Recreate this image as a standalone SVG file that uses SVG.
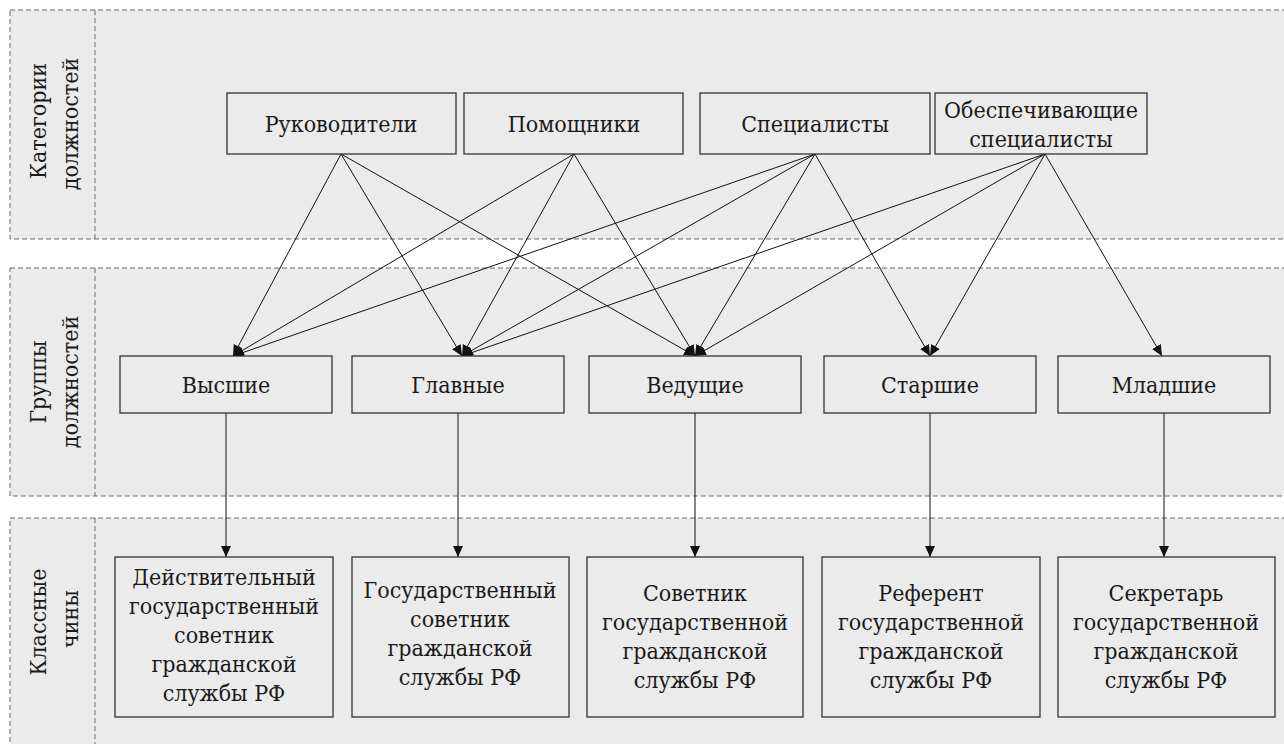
<svg xmlns="http://www.w3.org/2000/svg" width="1284" height="744" viewBox="0 0 1284 744">
<style>
.lane{fill:#ebebeb;stroke:#6a6a6a;stroke-width:1;stroke-dasharray:5,3}
.div{stroke:#6a6a6a;stroke-width:1;stroke-dasharray:5,3;fill:none}
.box{fill:#ebebeb;stroke:#333;stroke-width:1.3}
.c{stroke:#111;stroke-width:1;fill:none;marker-end:url(#ah)}
</style>
<defs>
<marker id="ah" markerUnits="userSpaceOnUse" markerWidth="12" markerHeight="12" refX="11" refY="5" orient="auto">
<path d="M0,0 L11,5 L0,10 Z" fill="#111"/>
</marker>
</defs>
<rect width="1284" height="744" fill="#fff"/>
<g font-family="DejaVu Serif Condensed, DejaVu Serif, serif" font-stretch="condensed" font-size="23" fill="#1a1a1a" text-anchor="middle">
<g id="lanes">
<rect class="lane" x="10" y="10" width="1290" height="229"/>
<line class="div" x1="95" y1="10" x2="95" y2="239"/>
<rect class="lane" x="10" y="268" width="1290" height="228"/>
<line class="div" x1="95" y1="268" x2="95" y2="496"/>
<rect class="lane" x="10" y="518" width="1290" height="250"/>
<line class="div" x1="95" y1="518" x2="95" y2="768"/>
<text transform="translate(46,121) rotate(-90)">Категории</text>
<text transform="translate(78,124) rotate(-90)">должностей</text>
<text transform="translate(46,382) rotate(-90)">Группы</text>
<text transform="translate(78,382) rotate(-90)">должностей</text>
<text transform="translate(46,622) rotate(-90)">Классные</text>
<text transform="translate(78,619) rotate(-90)">чины</text>
</g>
<g id="connectors">
<line class="c" x1="341" y1="154" x2="233" y2="356"/>
<line class="c" x1="341" y1="154" x2="462" y2="356"/>
<line class="c" x1="341" y1="154" x2="695" y2="356"/>
<line class="c" x1="574" y1="154" x2="233" y2="356"/>
<line class="c" x1="574" y1="154" x2="462" y2="356"/>
<line class="c" x1="574" y1="154" x2="695" y2="356"/>
<line class="c" x1="815" y1="154" x2="233" y2="356"/>
<line class="c" x1="815" y1="154" x2="462" y2="356"/>
<line class="c" x1="815" y1="154" x2="695" y2="356"/>
<line class="c" x1="815" y1="154" x2="930" y2="356"/>
<line class="c" x1="1045" y1="154" x2="462" y2="356"/>
<line class="c" x1="1045" y1="154" x2="695" y2="356"/>
<line class="c" x1="1045" y1="154" x2="930" y2="356"/>
<line class="c" x1="1045" y1="154" x2="1162" y2="356"/>
<line class="c" x1="226" y1="413" x2="226" y2="557"/>
<line class="c" x1="458" y1="413" x2="458" y2="557"/>
<line class="c" x1="695" y1="413" x2="695" y2="557"/>
<line class="c" x1="930" y1="413" x2="930" y2="557"/>
<line class="c" x1="1164" y1="413" x2="1164" y2="557"/>
</g>
<g id="n-rukovoditeli"><rect class="box" x="227" y="93" width="229" height="61"/><text x="341" y="132">Руководители</text></g>
<g id="n-pomoshchniki"><rect class="box" x="464" y="93" width="219" height="61"/><text x="574" y="132">Помощники</text></g>
<g id="n-specialisty"><rect class="box" x="700" y="93" width="230" height="61"/><text x="815" y="132">Специалисты</text></g>
<g id="n-obesp"><rect class="box" x="935" y="93" width="212" height="61"/><text x="1041" y="118">Обеспечивающие</text><text x="1041" y="147">специалисты</text></g>
<g id="n-vysshie"><rect class="box" x="120" y="356" width="212" height="57"/><text x="226" y="393">Высшие</text></g>
<g id="n-glavnye"><rect class="box" x="352" y="356" width="212" height="57"/><text x="458" y="393">Главные</text></g>
<g id="n-vedushchie"><rect class="box" x="589" y="356" width="212" height="57"/><text x="695" y="393">Ведущие</text></g>
<g id="n-starshie"><rect class="box" x="824" y="356" width="212" height="57"/><text x="930" y="393">Старшие</text></g>
<g id="n-mladshie"><rect class="box" x="1058" y="356" width="212" height="57"/><text x="1164" y="393">Младшие</text></g>
<g id="n-ch1"><rect class="box" x="115" y="557" width="218" height="160"/><text x="224" y="585">Действительный</text><text x="224" y="614">государственный</text><text x="224" y="643">советник</text><text x="224" y="672">гражданской</text><text x="224" y="701">службы РФ</text></g>
<g id="n-ch2"><rect class="box" x="352" y="557" width="217" height="160"/><text x="460" y="598">Государственный</text><text x="460" y="627">советник</text><text x="460" y="656">гражданской</text><text x="460" y="685">службы РФ</text></g>
<g id="n-ch3"><rect class="box" x="587" y="557" width="216" height="160"/><text x="695" y="601">Советник</text><text x="695" y="630">государственной</text><text x="695" y="659">гражданской</text><text x="695" y="688">службы РФ</text></g>
<g id="n-ch4"><rect class="box" x="822" y="557" width="218" height="160"/><text x="931" y="601">Референт</text><text x="931" y="630">государственной</text><text x="931" y="659">гражданской</text><text x="931" y="688">службы РФ</text></g>
<g id="n-ch5"><rect class="box" x="1058" y="557" width="217" height="160"/><text x="1166" y="601">Секретарь</text><text x="1166" y="630">государственной</text><text x="1166" y="659">гражданской</text><text x="1166" y="688">службы РФ</text></g>
</g>
</svg>
